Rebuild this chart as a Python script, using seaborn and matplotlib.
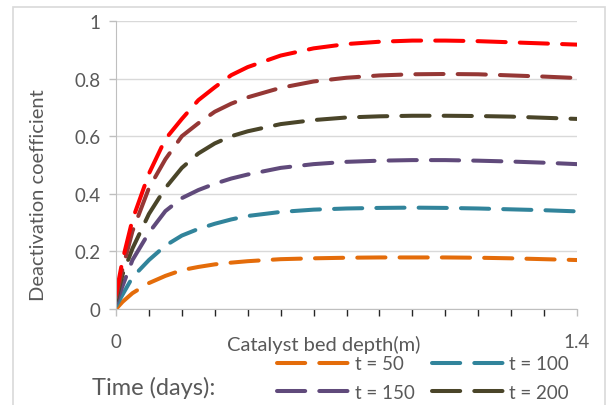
import numpy as np
import pandas as pd
import seaborn as sns
import matplotlib.pyplot as plt
from matplotlib.patches import Rectangle

# bed depth (m)
depth = [0, 0.02, 0.05, 0.1, 0.15, 0.2, 0.25, 0.3, 0.35, 0.4, 0.5, 0.6, 0.7, 0.8, 0.9, 1.0, 1.1, 1.2, 1.3, 1.4]

# deactivation coefficient
t50 = [0.0, 0.025, 0.055, 0.09, 0.115, 0.135, 0.146, 0.155, 0.161, 0.166, 0.173, 0.176, 0.178, 0.179, 0.179, 0.179, 0.178, 0.176, 0.173, 0.17]
t100 = [0.01, 0.05, 0.11, 0.17, 0.22, 0.255, 0.278, 0.296, 0.311, 0.323, 0.337, 0.345, 0.349, 0.351, 0.352, 0.351, 0.349, 0.346, 0.343, 0.339]
t150 = [0.02, 0.08, 0.17, 0.265, 0.34, 0.385, 0.413, 0.435, 0.453, 0.467, 0.49, 0.503, 0.511, 0.515, 0.517, 0.517, 0.515, 0.512, 0.508, 0.503]
t200 = [0.03, 0.12, 0.21, 0.33, 0.42, 0.49, 0.54, 0.575, 0.60, 0.617, 0.642, 0.656, 0.665, 0.669, 0.671, 0.671, 0.67, 0.668, 0.664, 0.66]
t250 = [0.04, 0.14, 0.27, 0.42, 0.52, 0.60, 0.645, 0.685, 0.713, 0.735, 0.768, 0.79, 0.803, 0.811, 0.815, 0.816, 0.815, 0.811, 0.807, 0.802]
t300 = [0.05, 0.17, 0.31, 0.47, 0.59, 0.66, 0.725, 0.77, 0.812, 0.84, 0.88, 0.905, 0.92, 0.928, 0.932, 0.932, 0.93, 0.926, 0.922, 0.918]

series = [
    ("t = 50", t50, "#e46c0a"),
    ("t = 100", t100, "#31849b"),
    ("t = 150", t150, "#604a7b"),
    ("t = 200", t200, "#4a4529"),
    ("", t250, "#953735"),
    ("", t300, "#ff0000"),
]

sns.set_style("white")
plt.rcParams['font.family'] = ['Lato', 'DejaVu Sans']
plt.rcParams['text.color'] = '#595959'

fig = plt.figure(figsize=(6.09, 4.06), dpi=100)
ax = fig.add_axes([116/609, 1 - 310/406, 461/609, 288/406])

handles = {}
for name, vals, col in series:
    df = pd.DataFrame({"depth": depth, "k": vals})
    sns.lineplot(data=df, x="depth", y="k", color=col, lw=2.9, ax=ax)
    ln = ax.lines[-1]
    ln.set_dashes((7, 3.5))
    ln.set_dash_capstyle('round')
    if name:
        ln.set_label(name)
        handles[name] = ln
if ax.get_legend() is not None:
    ax.get_legend().remove()

ax.set_xlim(0, 1.4)
ax.set_ylim(0, 1)
ax.set_xticks([0, 1.4])
ax.set_xticklabels(["0", "1.4"])
ax.set_xticks(np.arange(0, 1.41, 0.1), minor=True)
ax.set_yticks([0, 0.2, 0.4, 0.6, 0.8, 1])
ax.set_yticklabels(["0", "0.2", "0.4", "0.6", "0.8", "1"])
ax.tick_params(axis='both', labelsize=13.5, colors='#bfbfbf', labelcolor='#595959')
ax.tick_params(axis='x', which='both', direction='out', length=5, width=1, pad=12, bottom=True)
ax.tick_params(axis='y', direction='out', length=5, width=1, pad=6, left=True)
ax.grid(axis='y', color='#d9d9d9', lw=1)
for s in ['top', 'right']:
    ax.spines[s].set_visible(False)
for s in ['left', 'bottom']:
    ax.spines[s].set_color('#bfbfbf')
ax.set_axisbelow(True)

ax.set_xlabel("Catalyst bed depth(m)", fontsize=14.5, color='#595959')
ax.xaxis.set_label_coords((324 - 116) / 461, -0.09)
ax.set_ylabel("Deactivation coefficient", fontsize=14.5, color='#595959')
ax.yaxis.set_label_coords(-0.15, 0.40)

order = ["t = 50", "t = 150", "t = 100", "t = 200"]
fig.legend(handles=[handles[k] for k in order], ncol=2, loc='center left',
           bbox_to_anchor=(262/609, 1 - 379/406), frameon=False, fontsize=13.5,
           handlelength=3.9, handletextpad=0.25, columnspacing=0.9,
           labelspacing=0.6, borderpad=0.3)
fig.text(92/609, 1 - 388/406, "Time (days):", fontsize=17, va='center', ha='left', color='#595959')

fig.patches.append(Rectangle((13/609, -0.1), 592/609, 1.1 - 8/406, transform=fig.transFigure,
                             fill=False, edgecolor='#d9d9d9', lw=1.2))

fig.savefig("out.png", dpi=100)
